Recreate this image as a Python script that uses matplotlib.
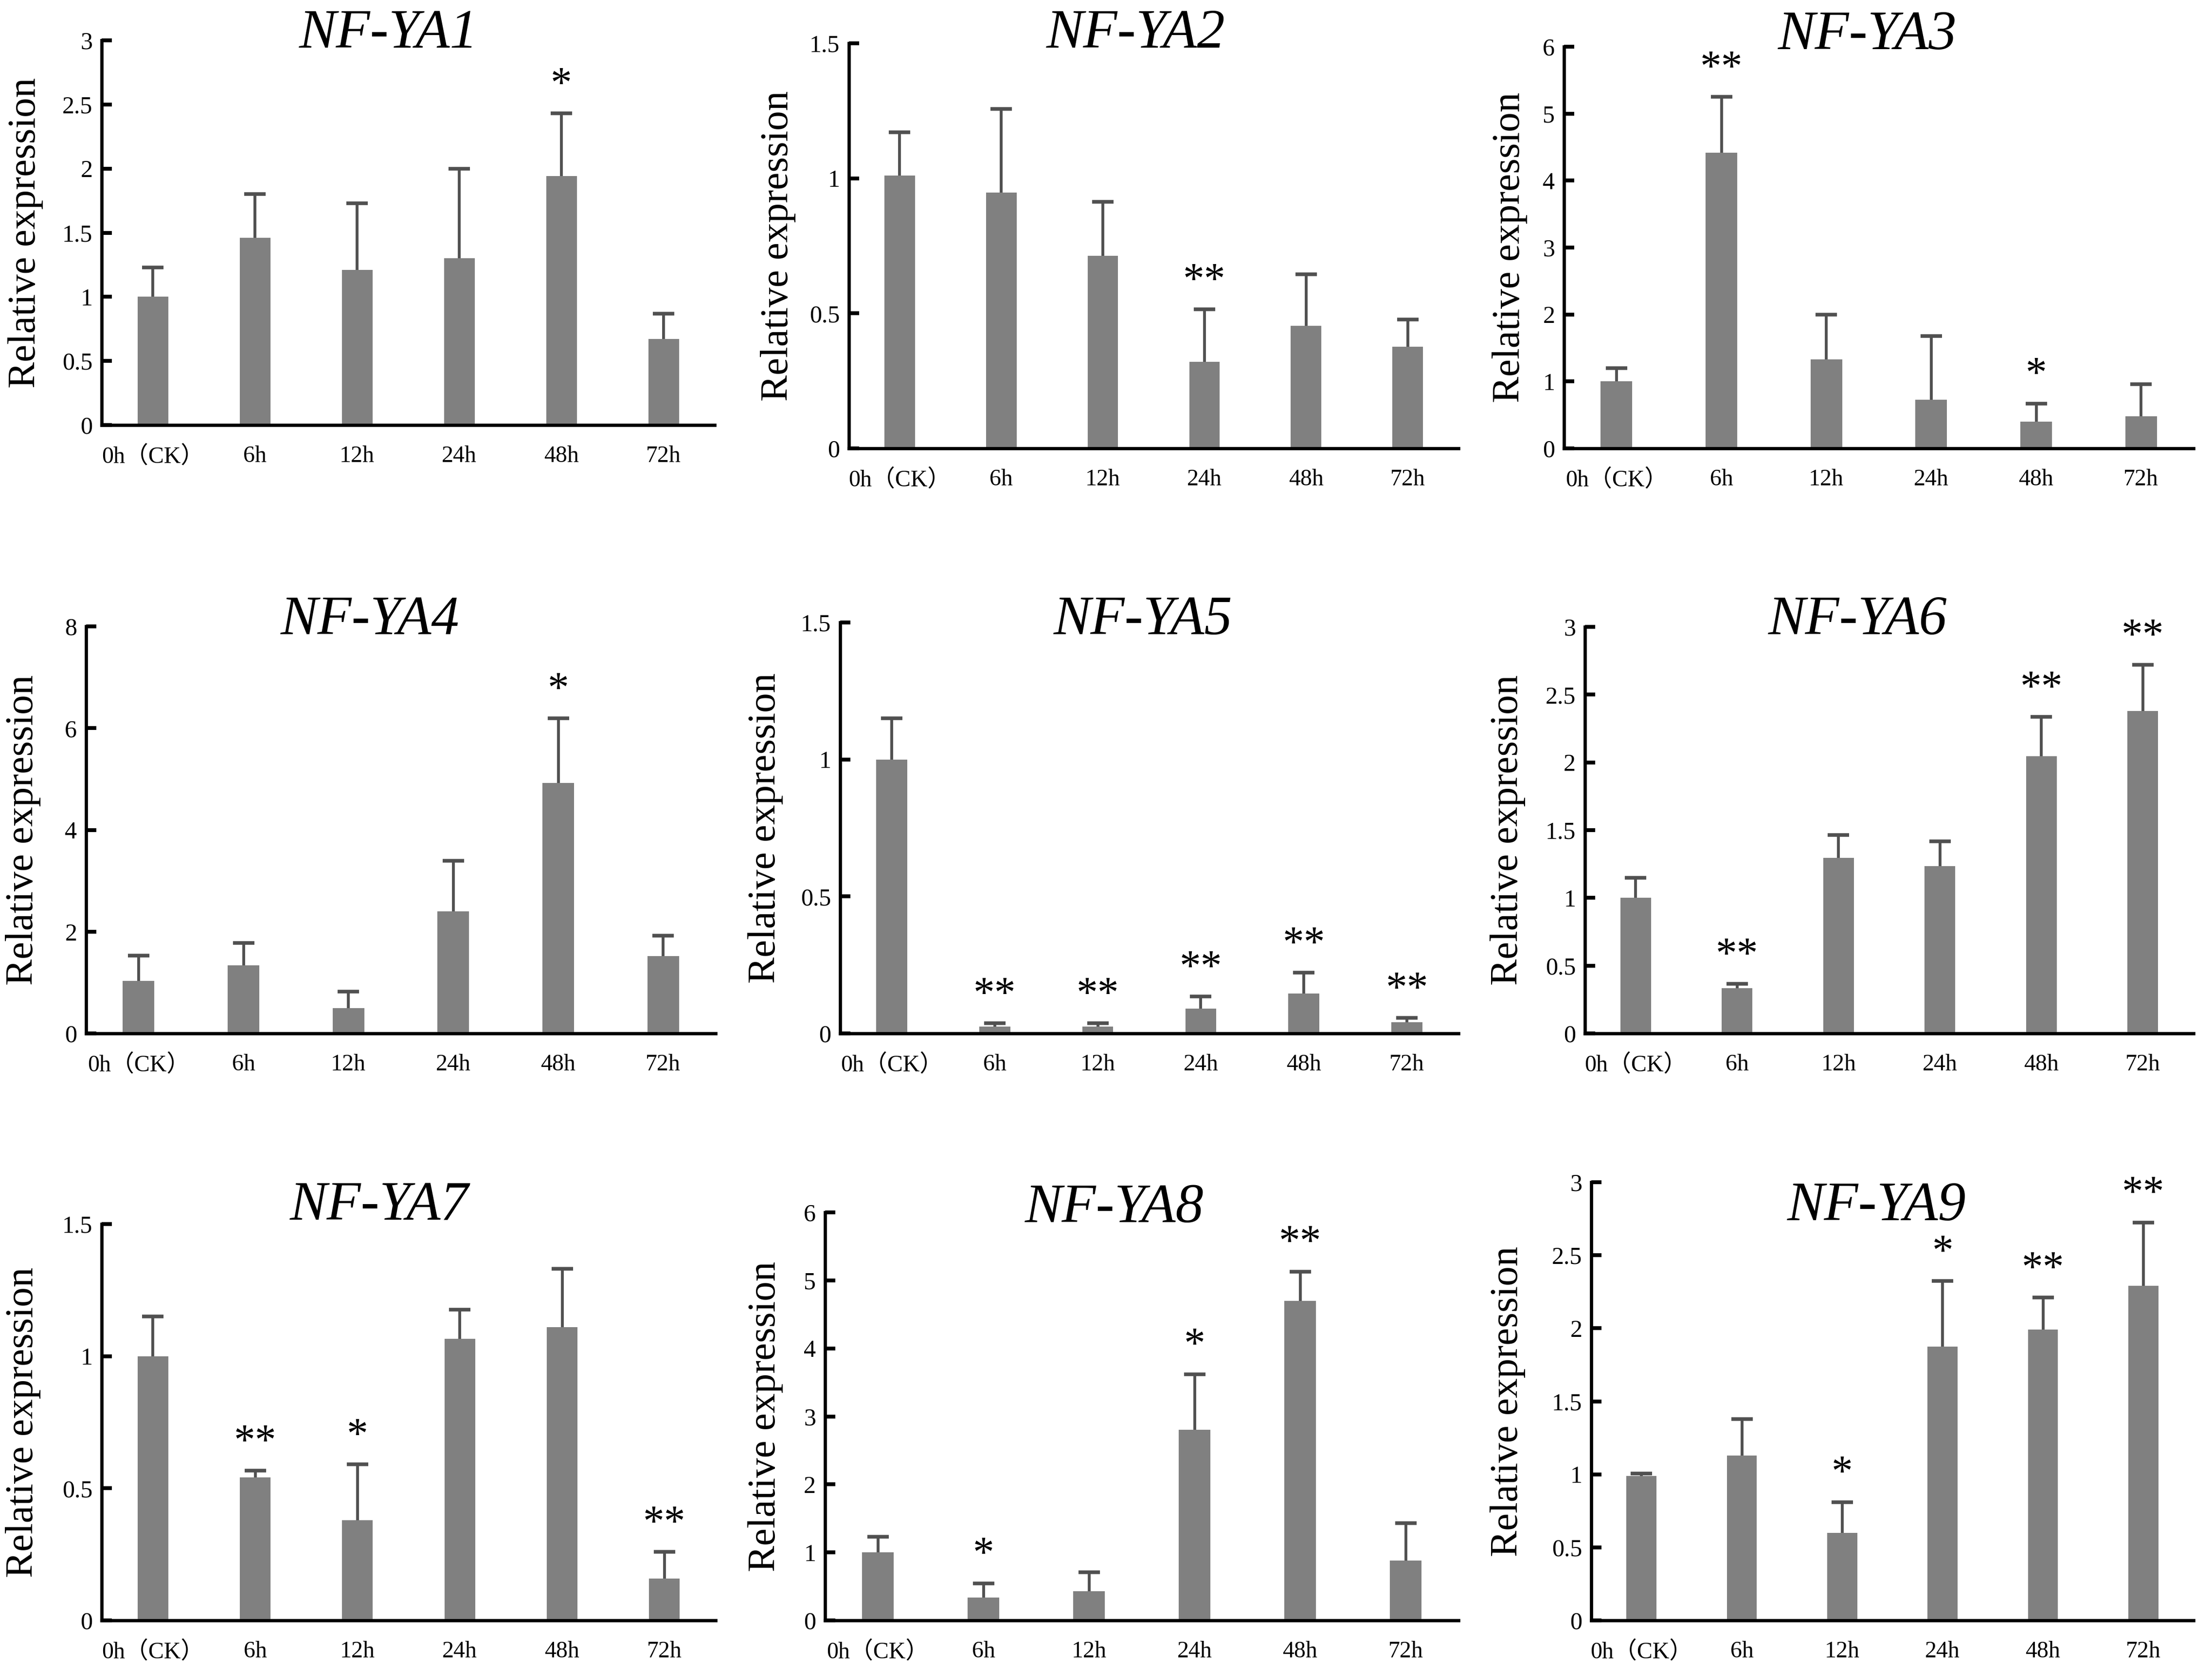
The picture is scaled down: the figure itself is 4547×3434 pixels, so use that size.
import matplotlib
matplotlib.use('Agg')
import matplotlib.pyplot as plt
from matplotlib.ticker import FixedLocator, FuncFormatter
import numpy as np

# ---------------- data ----------------
categories = ['0h（CK）', '6h', '12h', '24h', '48h', '72h']
genes = ['NF-YA1', 'NF-YA2', 'NF-YA3', 'NF-YA4', 'NF-YA5',
         'NF-YA6', 'NF-YA7', 'NF-YA8', 'NF-YA9']

ya1_mean = [1.00, 1.46, 1.21, 1.30, 1.94, 0.67]
ya1_err = [0.23, 0.34, 0.52, 0.70, 0.49, 0.20]
ya1_sig = ['', '', '', '', '*', '']

ya2_mean = [1.01, 0.947, 0.713, 0.32, 0.454, 0.377]
ya2_err = [0.16, 0.31, 0.20, 0.195, 0.19, 0.10]
ya2_sig = ['', '', '', '**', '', '']

ya3_mean = [1.00, 4.42, 1.33, 0.73, 0.40, 0.48]
ya3_err = [0.20, 0.83, 0.67, 0.95, 0.27, 0.48]
ya3_sig = ['', '**', '', '', '*', '']

ya4_mean = [1.03, 1.34, 0.50, 2.40, 4.92, 1.52]
ya4_err = [0.50, 0.44, 0.32, 0.99, 1.27, 0.40]
ya4_sig = ['', '', '', '', '*', '']

ya5_mean = [1.00, 0.025, 0.025, 0.09, 0.146, 0.041]
ya5_err = [0.15, 0.012, 0.012, 0.045, 0.076, 0.015]
ya5_sig = ['', '**', '**', '**', '**', '**']

ya6_mean = [1.00, 0.335, 1.294, 1.236, 2.046, 2.38]
ya6_err = [0.15, 0.03, 0.17, 0.18, 0.29, 0.34]
ya6_sig = ['', '**', '', '', '**', '**']

ya7_mean = [1.00, 0.541, 0.38, 1.066, 1.11, 0.159]
ya7_err = [0.15, 0.025, 0.21, 0.11, 0.22, 0.10]
ya7_sig = ['', '**', '*', '', '', '**']

ya8_mean = [1.00, 0.336, 0.43, 2.80, 4.70, 0.88]
ya8_err = [0.23, 0.21, 0.28, 0.82, 0.43, 0.55]
ya8_sig = ['', '*', '', '*', '**', '']

ya9_mean = [0.99, 1.128, 0.60, 1.874, 1.99, 2.29]
ya9_err = [0.015, 0.25, 0.21, 0.45, 0.22, 0.435]
ya9_sig = ['', '', '*', '*', '**', '**']

y_max = [3, 1.5, 6, 8, 1.5, 3, 1.5, 6, 3]
y_step = [0.5, 0.5, 1, 2, 0.5, 0.5, 0.5, 1, 0.5]

means = [ya1_mean, ya2_mean, ya3_mean, ya4_mean, ya5_mean,
         ya6_mean, ya7_mean, ya8_mean, ya9_mean]
errs = [ya1_err, ya2_err, ya3_err, ya4_err, ya5_err,
        ya6_err, ya7_err, ya8_err, ya9_err]
sigs = [ya1_sig, ya2_sig, ya3_sig, ya4_sig, ya5_sig,
        ya6_sig, ya7_sig, ya8_sig, ya9_sig]

# ---------------- layout (pixels) ----------------
W, H = 4547, 3434
DPI = 300
# axes rectangles: left, top, right, bottom
rects = [(209, 83, 1469, 874), (1745, 89, 2998, 922), (3215, 96, 4509, 922),
         (177, 1288, 1471, 2125), (1727, 1280, 2998, 2125), (3258, 1289, 4509, 2125),
         (209, 2517, 1471, 3332), (1696, 2493, 2998, 3332), (3271, 2431, 4509, 3332)]
title_pos = [(799, 70), (2335, 70), (3839, 73),
             (761, 1276), (2350, 1276), (3819, 1276),
             (780, 2481), (2291, 2485), (3858, 2481)]
ylabel_x = [53, 1599, 3104, 48, 1574, 3099, 48, 1574, 3099]

SERIF = ['Liberation Serif', 'Noto Sans CJK SC', 'DejaVu Serif']
plt.rcParams['font.family'] = SERIF

BAR_COLOR = '#808080'
ERR_COLOR = '#505050'

fig = plt.figure(figsize=(W / DPI, H / DPI), dpi=DPI, facecolor='white')

fmt = FuncFormatter(lambda v, p: ('%g' % v))

for k in range(9):
    l, t, r, b = rects[k]
    ax = fig.add_axes([l / W, 1 - b / H, (r - l) / W, (b - t) / H])
    x = np.arange(len(categories))
    m = means[k]
    e = errs[k]
    ax.bar(x, m, width=0.30, color=BAR_COLOR, zorder=2)
    eb = ax.errorbar(x, m, yerr=[[0] * len(e), e], fmt='none', ecolor=ERR_COLOR,
                     elinewidth=1.4, capsize=5.2, capthick=1.8, zorder=3)
    # hide the caps at the bar tops (one-sided error bars)
    for cl in eb[1]:
        if np.allclose(cl.get_ydata(), m):
            cl.set_visible(False)
    for i, s in enumerate(sigs[k]):
        if s:
            ax.annotate(s, xy=(x[i], m[i] + e[i]), xytext=(0, 8.5),
                        textcoords='offset points', ha='center', va='baseline',
                        fontsize=21, family=SERIF)
    ax.set_xlim(-0.5, len(categories) - 0.5)
    ax.set_ylim(0, y_max[k])
    ax.yaxis.set_major_locator(FixedLocator(np.arange(0, y_max[k] + 1e-9, y_step[k])))
    ax.yaxis.set_major_formatter(fmt)
    ax.set_xticks(x)
    ax.set_xticklabels(categories)
    for sp in ['top', 'right']:
        ax.spines[sp].set_visible(False)
    for sp in ['left', 'bottom']:
        ax.spines[sp].set_linewidth(1.6)
        ax.spines[sp].set_color('black')
    ax.tick_params(axis='y', direction='in', length=5, width=1.9, pad=4.5,
                   labelsize=12, colors='black')
    ax.tick_params(axis='x', length=0, pad=10, labelsize=11.5, colors='black')
    ax.set_facecolor('none')

    tx, ty = title_pos[k]
    fig.text(tx / W, 1 - ty / H, genes[k], ha='center', va='center',
             fontsize=27.5, style='italic', family=SERIF)
    fig.text(ylabel_x[k] / W, 1 - ((t + b) / 2) / H, 'Relative expression',
             rotation=90, ha='center', va='center', fontsize=19.5, family=SERIF)

fig.savefig('out.png', dpi=DPI, facecolor='white')
